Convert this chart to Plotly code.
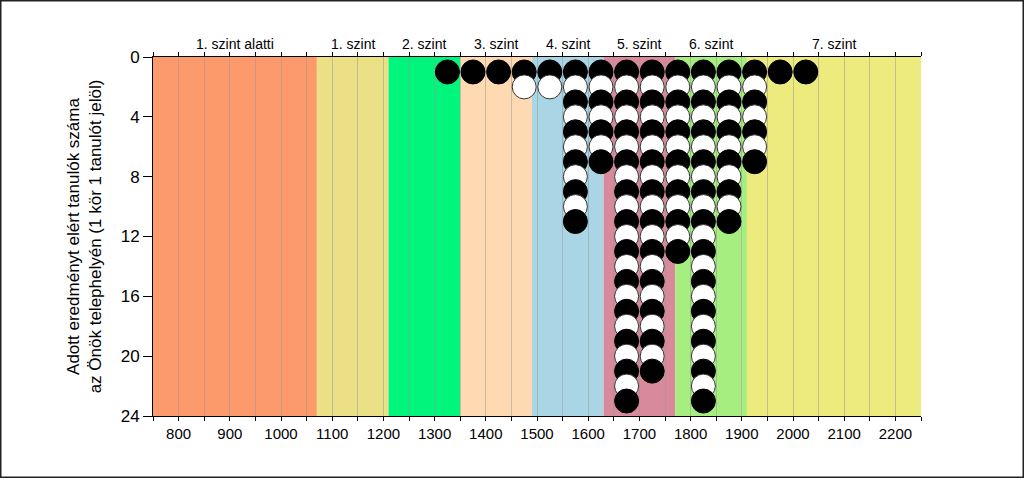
import plotly.graph_objects as go

# ---- data ----
score_bins = [1325, 1375, 1425, 1475, 1525, 1575, 1625, 1675, 1725, 1775, 1825, 1875, 1925, 1975, 2025]
student_counts = [1, 1, 1, 2, 2, 11, 7, 23, 21, 13, 23, 11, 7, 1, 1]

level_names = ["1. szint alatti", "1. szint", "2. szint", "3. szint", "4. szint", "5. szint", "6. szint", "7. szint"]
level_bounds = [750, 1070, 1210, 1350, 1490, 1630, 1770, 1910, 2250]
level_colors = ["#FD9A6C", "#EBE085", "#00F57C", "#FED9B2", "#A9D5E4", "#D98A9A", "#A6EE80", "#EEEB7E"]

x_tick_vals = list(range(750, 2251, 50))
x_tick_text = [str(v) if v % 100 == 0 and 800 <= v <= 2200 else "" for v in x_tick_vals]
y_tick_vals = [0, 4, 8, 12, 16, 20, 24]

# ---- build points (one circle per student), ordered by row so lower rows overlap upper ----
max_n = max(student_counts)
xs, ys, cols, lcols = [], [], [], []
for row in range(1, max_n + 1):
    for b, n in zip(score_bins, student_counts):
        if row <= n:
            xs.append(b)
            ys.append(row)
            black = row % 2 == 1
            cols.append("#000000" if black else "#FFFFFF")
            lcols.append("#000000" if black else "#333333")

ML, MR, MT, MB = 153, 103, 57, 62
W, H = 1024, 478
PW, PH = W - ML - MR, H - MT - MB

fig = go.Figure()
fig.add_trace(go.Scatter(
    x=xs, y=ys, mode="markers",
    marker=dict(size=24, color=cols, line=dict(width=1, color=lcols)),
    hoverinfo="skip", showlegend=False,
))

shapes = []
for i in range(len(level_names)):
    shapes.append(dict(type="rect", xref="x", yref="paper",
                       x0=level_bounds[i], x1=level_bounds[i + 1], y0=0, y1=1,
                       fillcolor=level_colors[i], line=dict(width=0), layer="below"))
# outer frame around whole figure (pixel coords converted to paper coords)
shapes.append(dict(type="rect", xref="paper", yref="paper",
                   x0=(0.75 - ML) / PW, x1=(W - 0.75 - ML) / PW,
                   y0=(H - MB - (H - 0.75)) / PH, y1=(H - MB - 0.75) / PH,
                   line=dict(width=1.5, color="#222222"), fillcolor="rgba(0,0,0,0)", layer="above"))

annotations = []
for i, name in enumerate(level_names):
    annotations.append(dict(x=(level_bounds[i] + level_bounds[i + 1]) / 2, y=1,
                            xref="x", yref="paper", yanchor="bottom", yshift=3,
                            text=name, showarrow=False,
                            font=dict(family="Liberation Sans, Arial", size=14, color="#000")))

fig.update_layout(
    width=W, height=H,
    margin=dict(l=ML, r=MR, t=MT, b=MB),
    paper_bgcolor="white", plot_bgcolor="white",
    shapes=shapes, annotations=annotations,
    xaxis=dict(range=[750, 2250], tickvals=x_tick_vals, ticktext=x_tick_text,
               ticks="outside", ticklen=4, tickcolor="#000", showline=True, linecolor="#000",
               mirror="ticks", showgrid=True, gridcolor="rgba(150,150,150,0.5)", gridwidth=1,
               zeroline=False,
               tickfont=dict(family="Liberation Sans Narrow, Arial Narrow, Liberation Sans", size=15, color="#000")),
    yaxis=dict(range=[24, 0], tickvals=y_tick_vals, ticks="outside", ticklen=9, tickcolor="#000",
               showline=True, linecolor="#000", showgrid=False, zeroline=False,
               tickfont=dict(family="Liberation Sans, Arial", size=17, color="#000"),
               title=dict(text="Adott eredményt elért tanulók száma<br>az Önök telephelyén (1 kör 1 tanulót jelöl)",
                          font=dict(family="Liberation Sans, Arial", size=17, color="#000"), standoff=14)),
)

fig.write_html("out.html", config={"displayModeBar": False},
               post_script="document.body.style.margin='0';document.body.style.padding='0';"
                           "document.body.style.overflow='hidden';")
